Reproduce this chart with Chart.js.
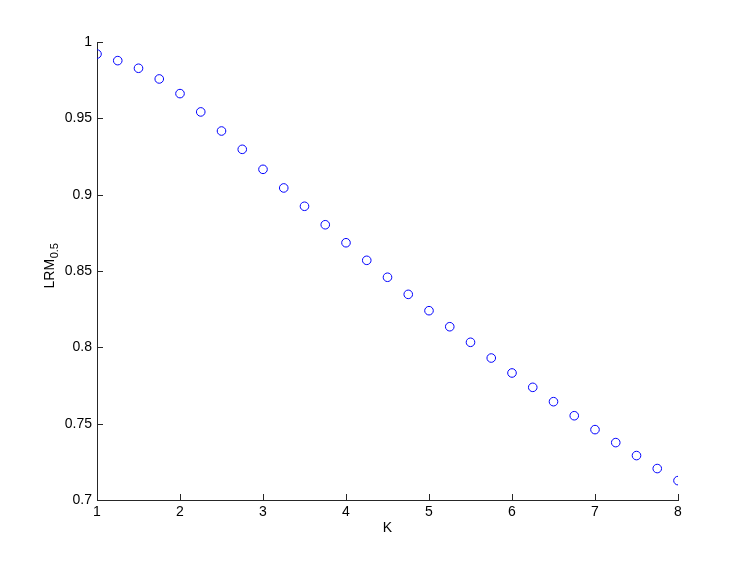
<!DOCTYPE html>
<html>
<head>
<meta charset="utf-8">
<script src="https://cdn.jsdelivr.net/npm/chart.js@4.4.1/dist/chart.umd.min.js"></script>
<style>
html,body{margin:0;padding:0;background:#fff;}
#wrap{width:747px;height:562px;position:relative;}
</style>
</head>
<body>
<div id="wrap"><canvas id="c" width="747" height="562"></canvas></div>
<script>
const kValues = [1,1.25,1.5,1.75,2,2.25,2.5,2.75,3,3.25,3.5,3.75,4,4.25,4.5,4.75,5,5.25,5.5,5.75,6,6.25,6.5,6.75,7,7.25,7.5,7.75,8];
const lrmValues = [0.9921,0.9878,0.9828,0.9758,0.9662,0.9542,0.9417,0.9297,0.9166,0.9044,0.8924,0.8803,0.8685,0.8570,0.8459,0.8347,0.8240,0.8135,0.8033,0.7930,0.7832,0.7738,0.7644,0.7552,0.7461,0.7376,0.7291,0.7206,0.7127];
const xTickLabels = ['1','2','3','4','5','6','7','8'];
const yTickLabels = ['0.7','0.75','0.8','0.85','0.9','0.95','1'];
const xTitle = 'K';
const yTitleMain = 'LRM';
const yTitleSub = '0.5';

const FONT = 'Liberation Sans, Arial, Helvetica, sans-serif';

const inwardTicks = {
  id: 'inwardTicks',
  afterDraw(chart) {
    const ctx = chart.ctx;
    const xs = chart.scales.x, ys = chart.scales.y;
    const a = chart.chartArea;
    ctx.save();
    ctx.strokeStyle = '#262626';
    ctx.lineWidth = 1;
    ctx.beginPath();
    xs.ticks.forEach(t => {
      const px = Math.round(xs.getPixelForValue(t.value)) + 0.5;
      ctx.moveTo(px, a.bottom);
      ctx.lineTo(px, a.bottom - 6);
    });
    ys.ticks.forEach(t => {
      const py = Math.round(ys.getPixelForValue(t.value)) + 0.5;
      ctx.moveTo(a.left, py);
      ctx.lineTo(a.left + 6, py);
    });
    ctx.stroke();
    // y title with subscript
    ctx.fillStyle = '#000';
    ctx.translate(54, (a.top + a.bottom) / 2);
    ctx.rotate(-Math.PI / 2);
    ctx.font = '14px ' + FONT;
    const w1 = ctx.measureText(yTitleMain).width;
    ctx.font = '11px ' + FONT;
    const w2 = ctx.measureText(yTitleSub).width;
    const start = -(w1 + w2) / 2 + 5;
    ctx.textBaseline = 'alphabetic';
    ctx.textAlign = 'left';
    ctx.font = '14px ' + FONT;
    ctx.fillText(yTitleMain, start, 0);
    ctx.font = '11px ' + FONT;
    ctx.fillText(yTitleSub, start + w1 + 0.5, 4);
    ctx.restore();
  }
};

new Chart(document.getElementById('c'), {
  type: 'scatter',
  data: {
    datasets: [{
      data: kValues.map((k, i) => ({x: k, y: lrmValues[i]})),
      showLine: false,
      pointStyle: 'circle',
      pointRadius: 4.3,
      pointHoverRadius: 4.3,
      pointBorderWidth: 1,
      pointBorderColor: 'rgb(0,0,255)',
      pointBackgroundColor: 'rgba(0,0,0,0)'
    }]
  },
  options: {
    responsive: false,
    animation: false,
    layout: {padding: {left: 0, right: 69, top: 42, bottom: 25}},
    plugins: {legend: {display: false}, tooltip: {enabled: false}},
    scales: {
      x: {
        type: 'linear', min: 1, max: 8,
        grid: {display: false, drawTicks: false, tickLength: 0},
        border: {display: true, color: '#262626', width: 1},
        ticks: {stepSize: 1, padding: 4, color: '#000', font: {family: FONT, size: 14},
          callback: (v) => { const i = xTickLabels.indexOf(String(v)); return i >= 0 ? xTickLabels[i] : ''; }},
        title: {display: true, text: xTitle, color: '#000', font: {family: FONT, size: 14}, padding: {top: 0, bottom: 0}},
        afterFit(s) { s.height = 37; }
      },
      y: {
        type: 'linear', min: 0.7, max: 1,
        grid: {display: false, drawTicks: false, tickLength: 0},
        border: {display: true, color: '#262626', width: 1},
        ticks: {stepSize: 0.05, padding: 5, color: '#000', font: {family: FONT, size: 14},
          callback: (v, i) => yTickLabels[i] !== undefined ? yTickLabels[i] : ''},
        afterFit(s) { s.width = 97; }
      }
    }
  },
  plugins: [inwardTicks]
});
</script>
</body>
</html>
